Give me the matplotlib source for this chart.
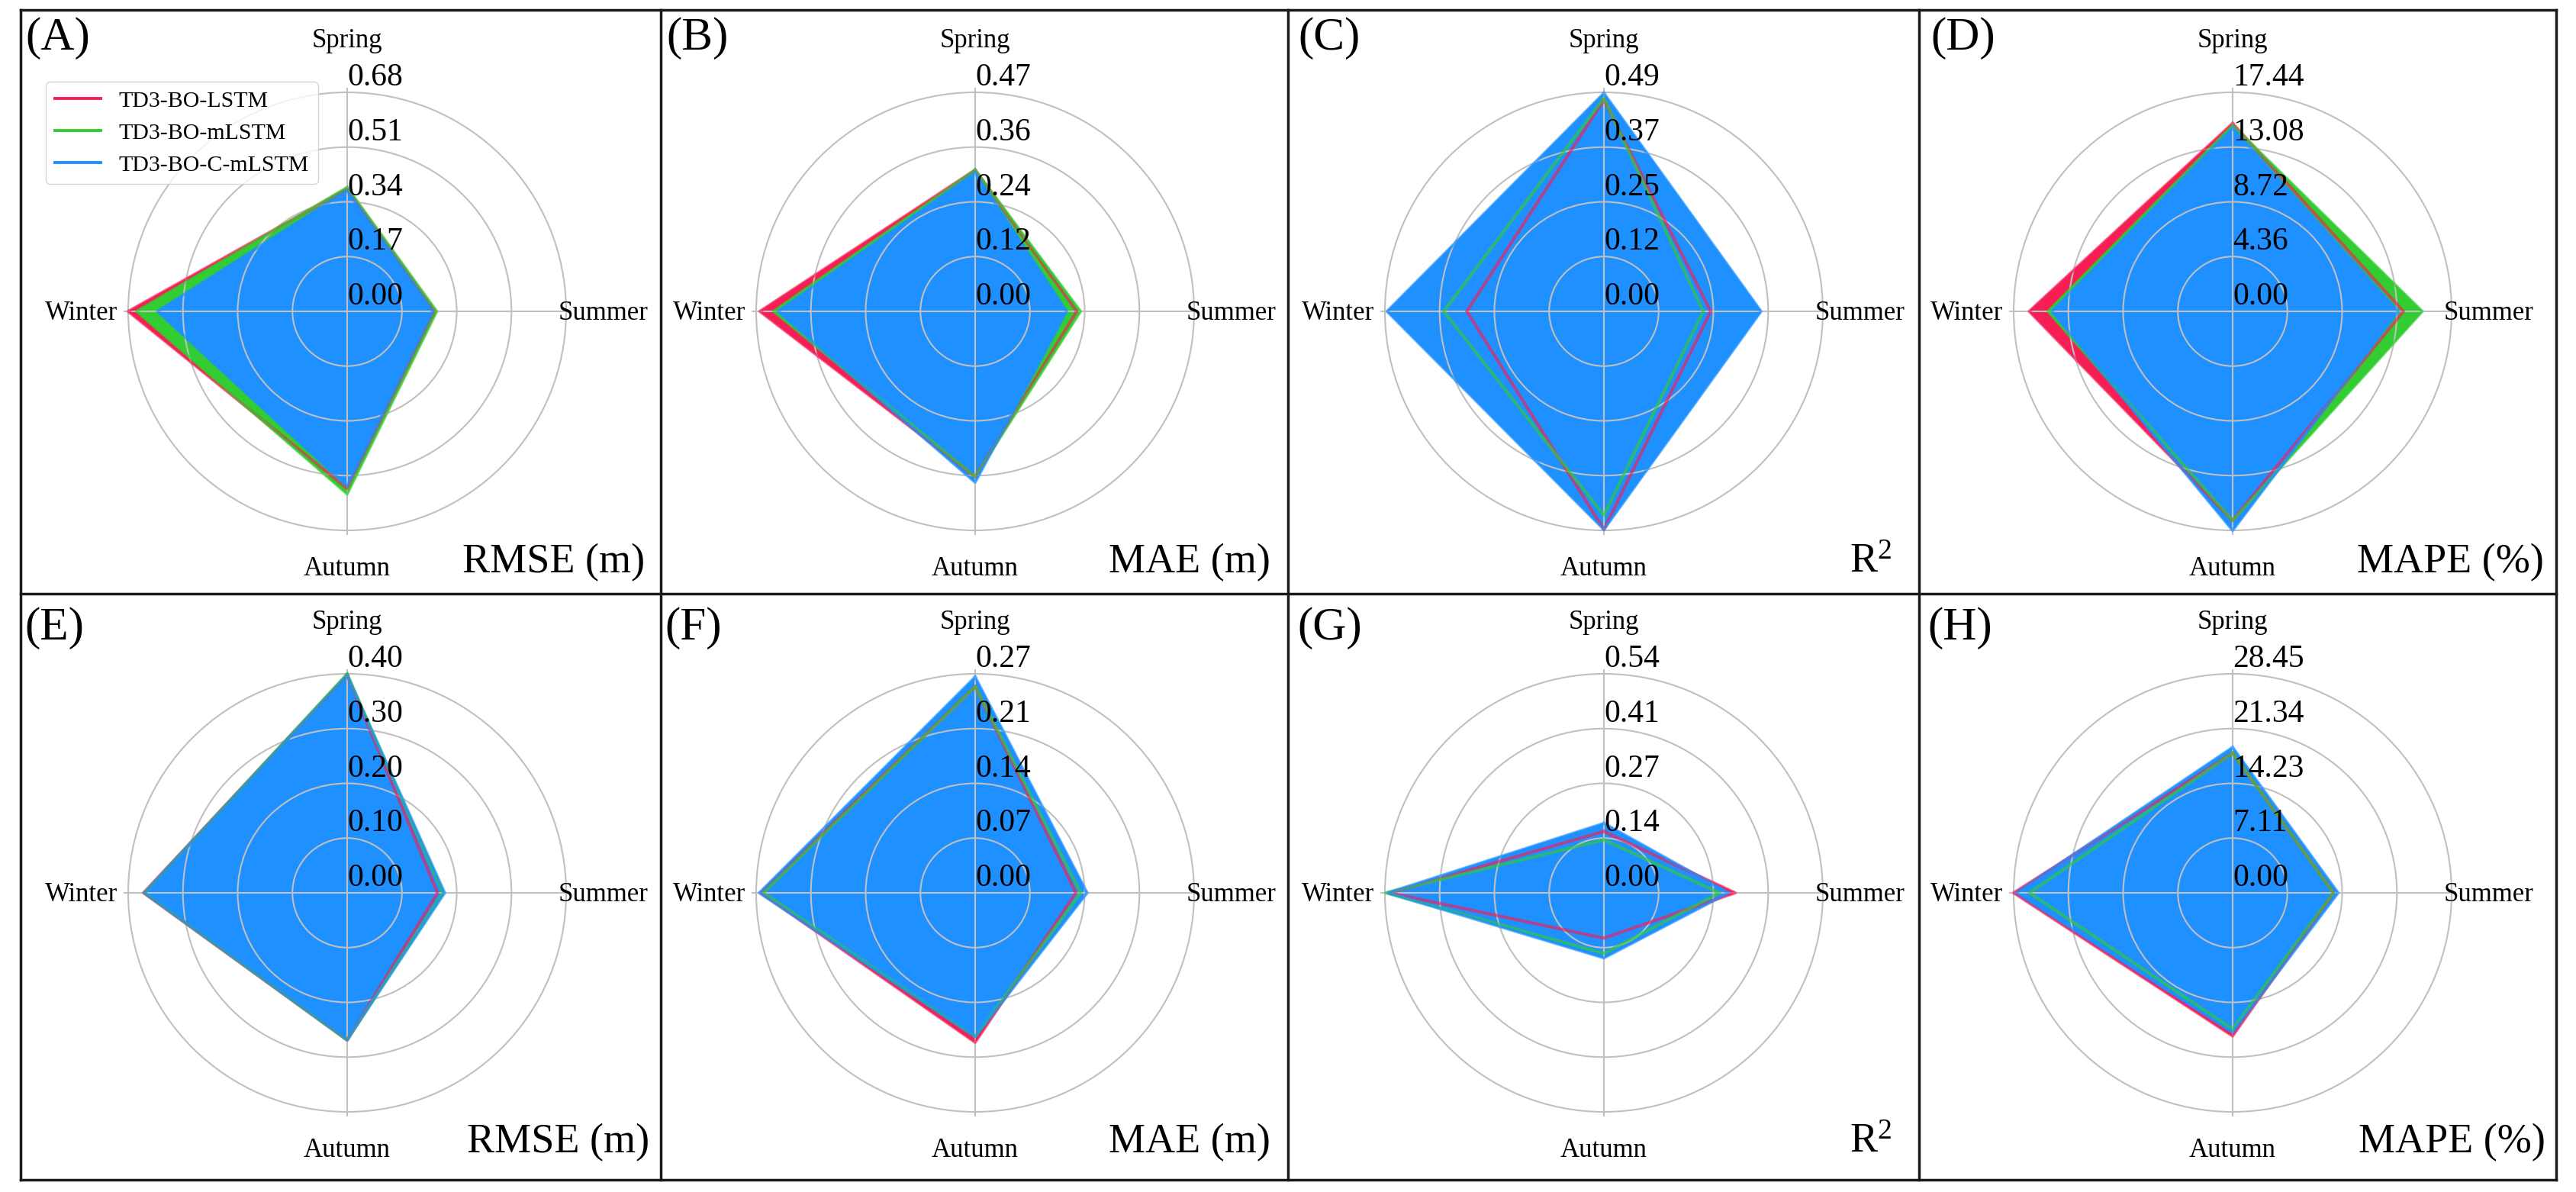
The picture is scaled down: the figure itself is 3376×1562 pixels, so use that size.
import numpy as np
import matplotlib
matplotlib.use('Agg')
import matplotlib.pyplot as plt
from matplotlib import transforms
from matplotlib.lines import Line2D

plt.rcParams['font.family'] = ['Liberation Serif', 'DejaVu Serif']
plt.rcParams['mathtext.fontset'] = 'custom'
plt.rcParams['mathtext.rm'] = 'Liberation Serif'
plt.rcParams['mathtext.it'] = 'Liberation Serif:italic'

# canvas size in pixels
W, H = 3376, 1562
DPI = 100

# ---- data (Spring, Summer, Autumn, Winter) ----
seasons = ['Spring', 'Summer', 'Autumn', 'Winter']
models = ['TD3-BO-LSTM', 'TD3-BO-mLSTM', 'TD3-BO-C-mLSTM']
colors = ['#F71E55', '#32CD32', '#1E90FF']

panel_tags = ['(A)', '(B)', '(C)', '(D)', '(E)', '(F)', '(G)', '(H)']
metric_names = ['RMSE (m)', 'MAE (m)', r'$\mathrm{R}^{2}$', 'MAPE (%)',
                'RMSE (m)', 'MAE (m)', r'$\mathrm{R}^{2}$', 'MAPE (%)']

r_top = [0.68, 0.474, 0.492, 17.44, 0.40, 0.274, 0.542, 28.452]
rtick_labels = [
    ['0.00', '0.17', '0.34', '0.51', '0.68'],
    ['0.00', '0.12', '0.24', '0.36', '0.47'],
    ['0.00', '0.12', '0.25', '0.37', '0.49'],
    ['0.00', '4.36', '8.72', '13.08', '17.44'],
    ['0.00', '0.10', '0.20', '0.30', '0.40'],
    ['0.00', '0.07', '0.14', '0.21', '0.27'],
    ['0.00', '0.14', '0.27', '0.41', '0.54'],
    ['0.00', '7.11', '14.23', '21.34', '28.45'],
]

lstm = [
    [0.380, 0.272, 0.550, 0.680],
    [0.306, 0.220, 0.358, 0.466],
    [0.475, 0.240, 0.490, 0.308],
    [14.97, 13.6, 16.65, 16.2],
    [0.398, 0.165, 0.269, 0.372],
    [0.258, 0.126, 0.187, 0.268],
    [0.152, 0.325, 0.112, 0.530],
    [18.15, 13.1, 18.6, 28.45],
]
mlstm = [
    [0.385, 0.278, 0.567, 0.654],
    [0.306, 0.228, 0.358, 0.436],
    [0.479, 0.223, 0.458, 0.360],
    [14.8, 15.1, 16.65, 14.7],
    [0.400, 0.175, 0.269, 0.370],
    [0.258, 0.132, 0.180, 0.265],
    [0.131, 0.286, 0.150, 0.540],
    [18.15, 13.1, 17.7, 26.4],
]
cmlstm = [
    [0.375, 0.266, 0.543, 0.589],
    [0.300, 0.198, 0.370, 0.427],
    [0.490, 0.353, 0.490, 0.487],
    [14.6, 13.2, 17.44, 14.4],
    [0.397, 0.178, 0.268, 0.370],
    [0.270, 0.140, 0.180, 0.270],
    [0.172, 0.309, 0.161, 0.535],
    [18.9, 13.7, 18.15, 28.1],
]

# ---- layout (pixels from top-left) ----
col_edges = [27, 866, 1688, 2515, 3350]
row_edges = [13, 778, 1546]
centers_x = [455, 1278, 2102, 2926]
centers_y = [408, 1170]
R_GRID = 287     # radius of outer circle
R_AX = 293       # radius of axes
tag_dx = [6, 7, 13, 15, 5, 5, 12, 11]
tag_dy = [9, 17]
metric_dx = [21, 23, 36, 16, 15, 23, 36, 14]
metric_up = [28, 36]

fig = plt.figure(figsize=(W / DPI, H / DPI), dpi=DPI)
fig.patch.set_facecolor('white')

angles = np.linspace(0, 2 * np.pi, 4, endpoint=False)
closed = np.append(angles, angles[0])

season_off = [(0, 346, 'center'), (277, -11, 'left'), (0, -346, 'center'), (-301, -11, 'right')]

for i in range(8):
    row, col = divmod(i, 4)
    cx, cy = centers_x[col], centers_y[row]
    ax = fig.add_axes([(cx - R_AX) / W, 1 - (cy + R_AX) / H, 2 * R_AX / W, 2 * R_AX / H],
                      projection='polar')
    ax.set_theta_offset(np.pi / 2)
    ax.set_theta_direction(-1)
    top = r_top[i]
    ax.set_ylim(0, top * R_AX / R_GRID)
    levels = np.linspace(0, top, 5)
    ax.set_yticks(levels[1:])
    ax.set_yticklabels([])
    ax.set_xticks(angles)
    ax.set_xticklabels([])
    ax.grid(True, color='#c0c0c0', linewidth=1.5)
    ax.spines['polar'].set_visible(False)

    for vals, c in zip((lstm[i], mlstm[i], cmlstm[i]), colors):
        v = np.append(vals, vals[0])
        ax.fill(closed, v, color=c, alpha=1.0)
        ax.plot(closed, v, color=c, lw=3, alpha=0.65)

    # radial value labels along the Spring axis
    tr = transforms.offset_copy(ax.transData, fig=fig, x=0, y=9, units='dots')
    for lev, lab in zip(levels, rtick_labels[i]):
        ax.text(0, lev, lab, fontsize=30, ha='left', va='baseline', transform=tr)

    # season labels
    for name, (dx, dy, ha) in zip(seasons, season_off):
        trs = transforms.offset_copy(ax.transData, fig=fig, x=dx, y=dy, units='dots')
        ax.text(0, 0, name, fontsize=25, ha=ha, va='baseline', transform=trs)

    # panel tag and metric name
    fig.text((col_edges[col] + tag_dx[i]) / W, 1 - (row_edges[row] + tag_dy[row]) / H,
             panel_tags[i], fontsize=44, ha='left', va='top')
    fig.text((col_edges[col + 1] - metric_dx[i]) / W, 1 - (row_edges[row + 1] - metric_up[row]) / H,
             metric_names[i], fontsize=39, ha='right', va='baseline')

# legend in panel A
handles = [Line2D([], [], color=c, lw=2.8) for c in colors]
fig.legend(handles, models, loc='upper left', bbox_to_anchor=(60 / W, 1 - 107 / H),
           borderaxespad=0, fontsize=21.5, frameon=True)

# panel frames
for x in col_edges:
    fig.add_artist(Line2D([x / W, x / W], [1 - row_edges[0] / H, 1 - row_edges[-1] / H],
                          transform=fig.transFigure, color='#1a1a1a', lw=2.5))
for y in row_edges:
    fig.add_artist(Line2D([col_edges[0] / W, col_edges[-1] / W], [1 - y / H, 1 - y / H],
                          transform=fig.transFigure, color='#1a1a1a', lw=2.5))

fig.savefig('out.png', dpi=DPI, facecolor='white')
